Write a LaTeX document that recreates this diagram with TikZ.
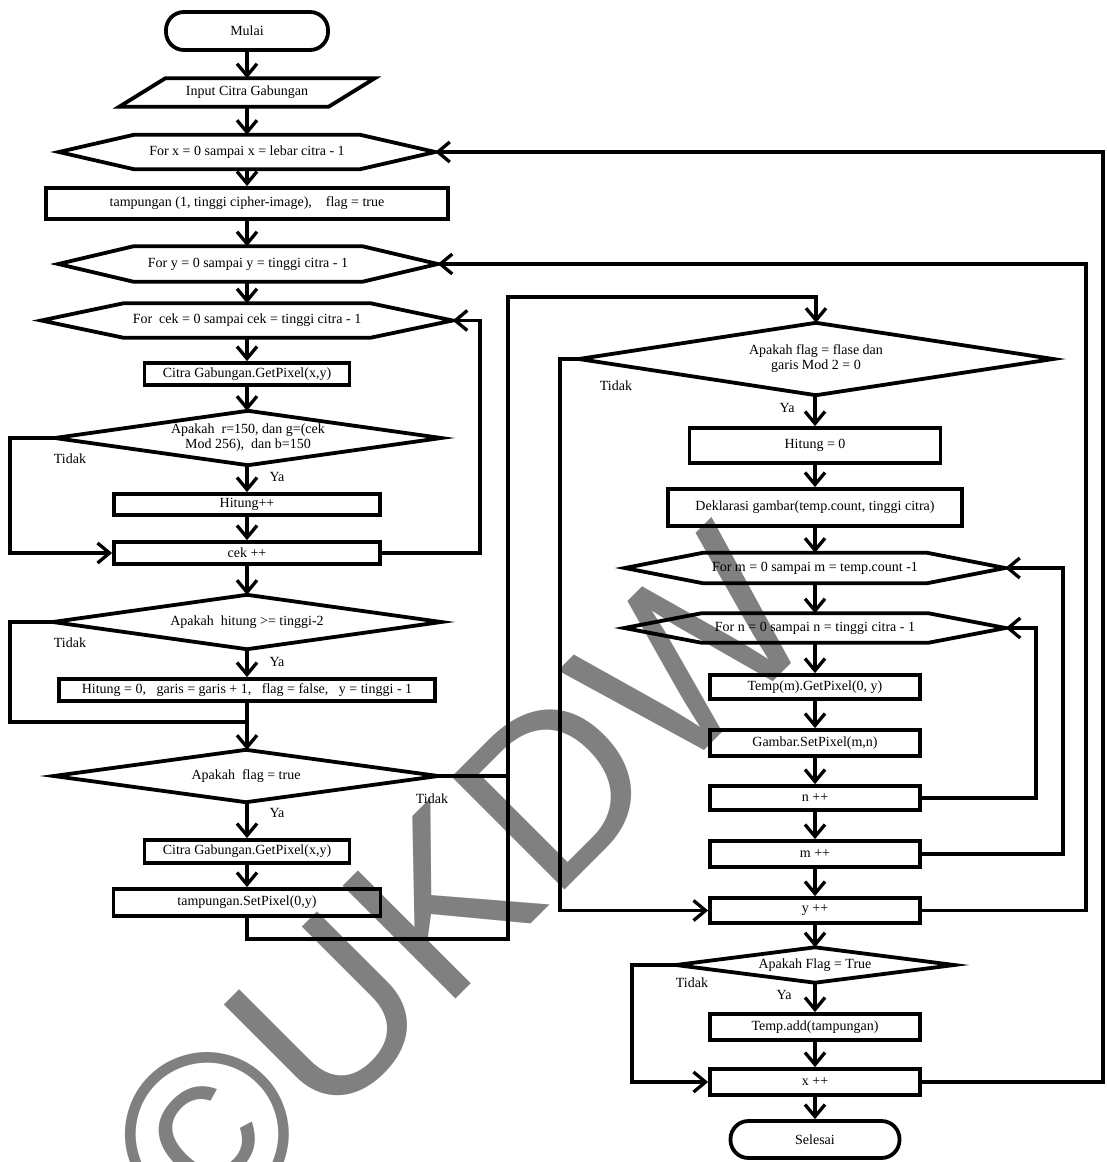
\documentclass[tikz,border=0pt]{standalone}
\usepackage{fontspec}
\setmainfont{Liberation Serif}
\newfontfamily\wmfont{Liberation Sans}
\usetikzlibrary{arrows.meta,calc}

% outline helpers for shapes built on an invisible frame node
\newcommand\drawhex[2]{\draw[shp] (#1.west) -- ($(#1.north west)+(#2,0)$) -- ($(#1.north east)-(#2,0)$) -- (#1.east) -- ($(#1.south east)-(#2,0)$) -- ($(#1.south west)+(#2,0)$) -- cycle;}
\newcommand\drawdec[1]{\draw[shp] (#1.north) -- (#1.east) -- (#1.south) -- (#1.west) -- cycle;}
\newcommand\drawpara[2]{\draw[shp] ($(#1.north west)+(#2,0)$) -- (#1.north east) -- ($(#1.south east)-(#2,0)$) -- (#1.south west) -- cycle;}

\begin{document}
\begin{tikzpicture}[x=1pt,y=-1pt,
  every node/.style={font=\fontsize{14}{15}\selectfont, inner sep=0pt},
  shp/.style={line width=3.8pt, line join=miter},
  proc/.style 2 args={draw, shp, minimum width=#1pt, minimum height=#2pt},
  term/.style 2 args={draw, shp, minimum width=#1pt, minimum height=#2pt, rounded corners=18pt},
  frm/.style 2 args={minimum width=#1pt, minimum height=#2pt},
  conn/.style={line width=3.3pt},
  arr/.style={conn, -{Straight Barb[length=12pt,width=20pt]}},
  lbl/.style={font=\fontsize{14}{15}\selectfont},
  wm/.style={text=gray, font=\wmfont\fontsize{232}{232}\selectfont}
]
\useasboundingbox (0,0) rectangle (1106,1162);

% watermark behind the chart
\begin{scope}
\clip (0,0) rectangle (1106,1162);
\node[wm, rotate=45, anchor=base west] (mark) at (203,1252) {©UKDW};
\end{scope}

% vertical lanes of the return lines
\coordinate (laneA) at (10,0);
\coordinate (laneB) at (480,0);
\coordinate (laneC) at (560,0);
\coordinate (laneD) at (632,0);
\coordinate (laneE) at (1036,0);
\coordinate (laneF) at (1063,0);
\coordinate (laneG) at (1086,0);
\coordinate (laneH) at (1103,0);

% ---------- left column ----------
\node[term={162}{38}] (mulai) at (247,31) {Mulai};
\node[frm={255}{28}] (input) at (247,92.5) {Input Citra Gabungan};
\drawpara{input}{46}
\node[frm={376}{34}] (forx) at (247,152) {For x = 0 sampai x = lebar citra - 1};
\drawhex{forx}{75}
\node[proc={402}{31}] (tamp1) at (247,203.5) {tampungan (1, tinggi cipher-image),\quad flag = true};
\node[frm={379}{35}] (fory) at (248,264) {For y = 0 sampai y = tinggi citra - 1};
\drawhex{fory}{75}
\node[frm={411}{34}] (forcek) at (247,320.5) {For\ \ cek = 0 sampai cek = tinggi citra - 1};
\drawhex{forcek}{82}
\node[proc={205}{22}] (citra1) at (247,374) {Citra Gabungan.GetPixel(x,y)};
\node[frm={386}{54}, align=center] (dec1) at (248,438) {Apakah\ \ r=150, dan g=(cek\\Mod 256),\ \ dan b=150};
\drawdec{dec1}
\node[proc={266}{21}] (hit1) at (247,504.5) {Hitung++};
\node[proc={266}{22}] (cek) at (247,553) {cek ++};
\node[frm={388}{54}] (dec2) at (247,622) {Apakah\ \ hitung >= tinggi-2};
\drawdec{dec2}
\node[proc={376}{22}] (hit0) at (247,690) {Hitung = 0,\ \ \ garis = garis + 1,\ \ \ flag = false,\ \ \ y = tinggi - 1};
\coordinate (jn) at (247,722);
\node[frm={384}{52}] (dec3) at (246,776) {Apakah\ \ flag = true};
\drawdec{dec3}
\node[proc={205}{23}] (citra2) at (247,851.5) {Citra Gabungan.GetPixel(x,y)};
\node[proc={267}{27}] (tamp2) at (247,902.5) {tampungan.SetPixel(0,y)};

% ---------- right column ----------
\node[frm={474}{72}, align=center] (dec4) at (816,359) {Apakah flag = flase dan\\garis Mod 2 = 0};
\drawdec{dec4}
\node[proc={251}{35}] (hit00) at (815,445.5) {Hitung = 0};
\node[proc={294}{37}] (dekl) at (815,507.5) {Deklarasi gambar(temp.count, tinggi citra)};
\node[frm={380}{30}] (form) at (815,568) {For m = 0 sampai m = temp.count -1};
\drawhex{form}{78}
\node[frm={381}{29}] (forn) at (815,628) {For n = 0 sampai n = tinggi citra - 1};
\drawhex{forn}{77}
\node[proc={210}{24}] (tempget) at (815,687) {Temp(m).GetPixel(0, y)};
\node[proc={210}{26}] (gambar) at (815,743) {Gambar.SetPixel(m,n)};
\node[proc={210}{24}] (npp) at (815,798) {n ++};
\node[proc={210}{26}] (mpp) at (815,854) {m ++};
\node[proc={210}{25}] (ypp) at (815,910.5) {y ++};
\node[frm={278}{35}] (dec5) at (815,965) {Apakah Flag = True};
\drawdec{dec5}
\node[proc={210}{26}] (tempadd) at (815,1027) {Temp.add(tampungan)};
\node[proc={210}{26}] (xpp) at (815,1082) {x ++};
\node[term={169}{37}] (selesai) at (815,1139.5) {Selesai};
\coordinate (jr) at (508,297);

% ---------- labels ----------
\node[lbl] (t1) at (70,459) {Tidak};
\node[lbl] (y1) at (277,477) {Ya};
\node[lbl] (t2) at (70,643) {Tidak};
\node[lbl] (y2) at (277,662) {Ya};
\node[lbl] (t3) at (432,799) {Tidak};
\node[lbl] (y3) at (277,813) {Ya};
\node[lbl] (t4) at (616,386) {Tidak};
\node[lbl] (y4) at (787,408) {Ya};
\node[lbl] (t5) at (692,983) {Tidak};
\node[lbl] (y5) at (784,995) {Ya};

% ---------- straight flow ----------
\draw[arr] (mulai) -- (input);
\draw[arr] (input) -- (forx);
\draw[arr] (forx) -- (tamp1);
\draw[arr] (tamp1) -- (tamp1 |- fory.north);
\draw[arr] (fory.south -| forcek) -- (forcek);
\draw[arr] (forcek) -- (citra1);
\draw[arr] (citra1) -- (citra1 |- dec1.north);
\draw[arr] (dec1.south -| hit1) -- (hit1);
\draw[arr] (hit1) -- (cek);
\draw[arr] (cek) -- (dec2);
\draw[arr] (dec2) -- (hit0);
\draw[conn] (hit0) -- (jn);
\draw[arr] (jn) -- (jn |- dec3.north);
\draw[arr] (dec3.south -| citra2) -- (citra2);
\draw[arr] (citra2) -- (tamp2);

\draw[arr] (dec4.south -| hit00) -- (hit00);
\draw[arr] (hit00) -- (dekl);
\draw[arr] (dekl) -- (form);
\draw[arr] (form) -- (forn);
\draw[arr] (forn) -- (tempget);
\draw[arr] (tempget) -- (gambar);
\draw[arr] (gambar) -- (npp);
\draw[arr] (npp) -- (mpp);
\draw[arr] (mpp) -- (ypp);
\draw[arr] (ypp) -- (dec5);
\draw[arr] (dec5) -- (tempadd);
\draw[arr] (tempadd) -- (xpp);
\draw[arr] (xpp) -- (selesai);

% ---------- branches and loops ----------
\draw[arr] (dec1.west) -- (dec1.west -| laneA) |- (cek.west);
\draw[arr] (cek.east) -- (cek.east -| laneB) |- (forcek.east);
\draw[conn] (dec2.west) -- (dec2.west -| laneA) |- (jn);
\draw[conn] (dec3.east) -- (dec3.east -| jr);
\draw[arr] (tamp2.south) -- ++(0,21) -| (jr) -| (dec4.north);
\draw[arr] (dec4.west) -- (dec4.west -| laneC) |- (ypp.west);
\draw[arr] (npp.east) -- (npp.east -| laneE) |- (forn.east);
\draw[arr] (mpp.east) -- (mpp.east -| laneF) |- (form.east);
\draw[arr] (ypp.east) -- (ypp.east -| laneG) |- (fory.east);
\draw[arr] (dec5.west) -- (dec5.west -| laneD) |- (xpp.west);
\draw[arr] (xpp.east) -- (xpp.east -| laneH) |- (forx.east);
\end{tikzpicture}
\end{document}
